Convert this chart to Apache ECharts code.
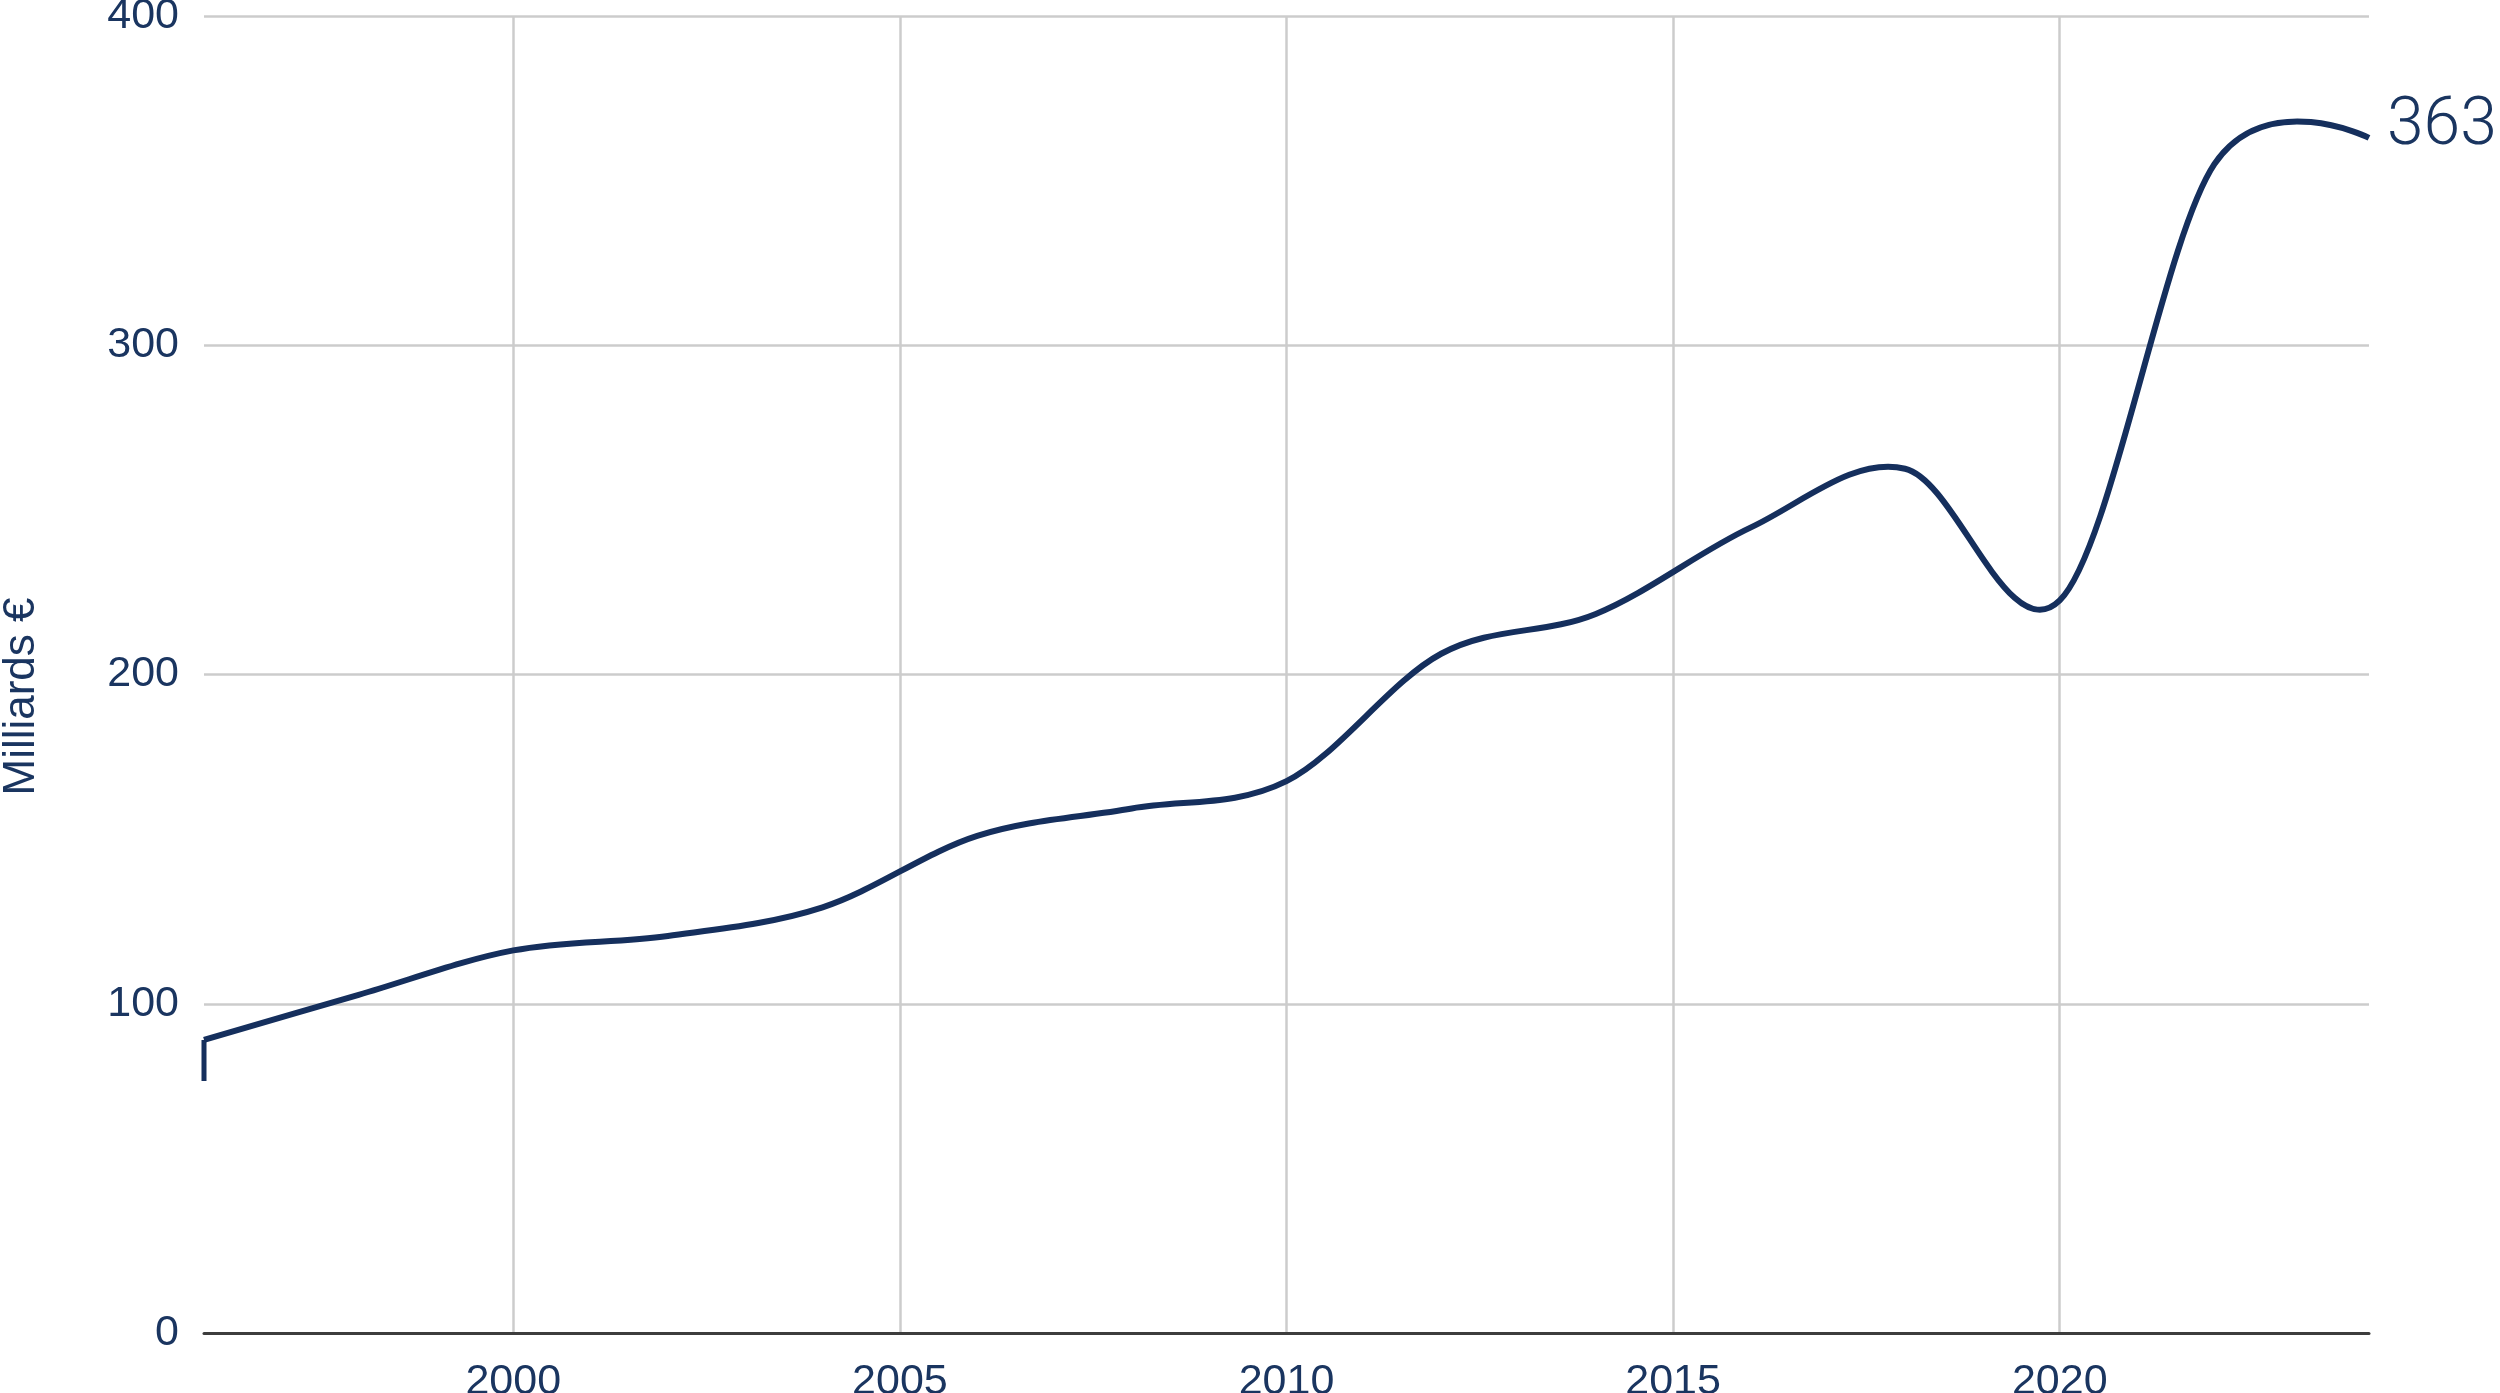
<!DOCTYPE html>
<html>
<head>
<meta charset="utf-8">
<script src="https://cdn.jsdelivr.net/npm/echarts@6/dist/echarts.min.js"></script>
<style>
html,body{margin:0;padding:0;background:#fff;}
#chart{width:2500px;height:1393px;}
</style>
</head>
<body>
<div id="chart"></div>
<script>
const years = [1996,1998,2000,2002,2004,2006,2008,2010,2012,2014,2016,2018,2020,2022,2024];
const values = [89,102.7,116.2,120.6,129.3,151,159.3,167.6,206.3,218.4,244.6,262.5,222.5,355,363];
const startDrop = [[1996,76.5],[1996,89]];
const xTickLabels = [2000,2005,2010,2015,2020];
const yTicks = [0,100,200,300,400];
const yAxisName = 'Milliards €';

const navy = '#1a3560';
const lineColor = '#152f5d';
const points = years.map((y,i)=>[y,values[i]]);

// uniform Catmull-Rom through pixel points; end segments use the end point as its own control
function splinePath(p){
  const n = p.length;
  let d = 'M' + p[0][0] + ',' + p[0][1];
  for (let i = 0; i < n - 1; i++) {
    const p1 = p[i], p2 = p[i + 1];
    let c1x = p1[0], c1y = p1[1], c2x = p2[0], c2y = p2[1];
    if (i > 0) { const p0 = p[i - 1]; c1x = p1[0] + (p2[0] - p0[0]) / 6; c1y = p1[1] + (p2[1] - p0[1]) / 6; }
    if (i + 2 < n) { const p3 = p[i + 2]; c2x = p2[0] - (p3[0] - p1[0]) / 6; c2y = p2[1] - (p3[1] - p1[1]) / 6; }
    d += 'C' + c1x + ',' + c1y + ' ' + c2x + ',' + c2y + ' ' + p2[0] + ',' + p2[1];
  }
  return d;
}

function renderCurve(params, api){
  if (params.dataIndex !== 0) return;
  const p = points.map(d => api.coord(d));
  const end = p[p.length - 1];
  return {
    type: 'group',
    children: [
      {type:'path', shape:{pathData:splinePath(p)}, style:{stroke:lineColor, lineWidth:6, fill:null, lineJoin:'round'}},
      {type:'text', x: end[0] + 18, y: end[1] - 10,
        style:{text: String(Math.round(values[values.length-1])), fill: navy, font: '300 66px Roboto', verticalAlign:'middle', align:'left'}}
    ]
  };
}

const chart = echarts.init(document.getElementById('chart'));
chart.setOption({
  animation:false,
  grid:{left:204,right:131,top:16,bottom:60,containLabel:false,outerBoundsMode:'none'},
  xAxis:{
    type:'value',min:1996,max:2024,
    axisLine:{show:true,lineStyle:{color:'#3d3d3d',width:3}},
    axisTick:{show:false,customValues:xTickLabels},
    axisLabel:{customValues:xTickLabels,formatter:v=>String(v),color:navy,fontSize:43,fontFamily:'Liberation Sans',margin:28},
    splitLine:{show:true,lineStyle:{color:'#cccccc',width:2.5}}
  },
  yAxis:{
    type:'value',min:yTicks[0],max:yTicks[yTicks.length-1],interval:100,
    name:yAxisName,nameLocation:'middle',nameRotate:90,nameGap:160,
    nameTextStyle:{color:navy,fontSize:44,fontFamily:'Liberation Sans',padding:[0,44,0,0]},
    axisLine:{show:false},axisTick:{show:false},
    axisLabel:{color:navy,fontSize:43,fontFamily:'Liberation Sans',margin:25},
    splitLine:{lineStyle:{color:'#cccccc',width:2.5}}
  },
  series:[
    {
      type:'custom',data:points,encode:{x:0,y:1},renderItem:renderCurve,clip:false,z:3
    },
    {
      type:'line',data:startDrop,showSymbol:false,symbol:'none',
      lineStyle:{color:lineColor,width:5},z:3
    }
  ]
});
</script>
</body>
</html>
